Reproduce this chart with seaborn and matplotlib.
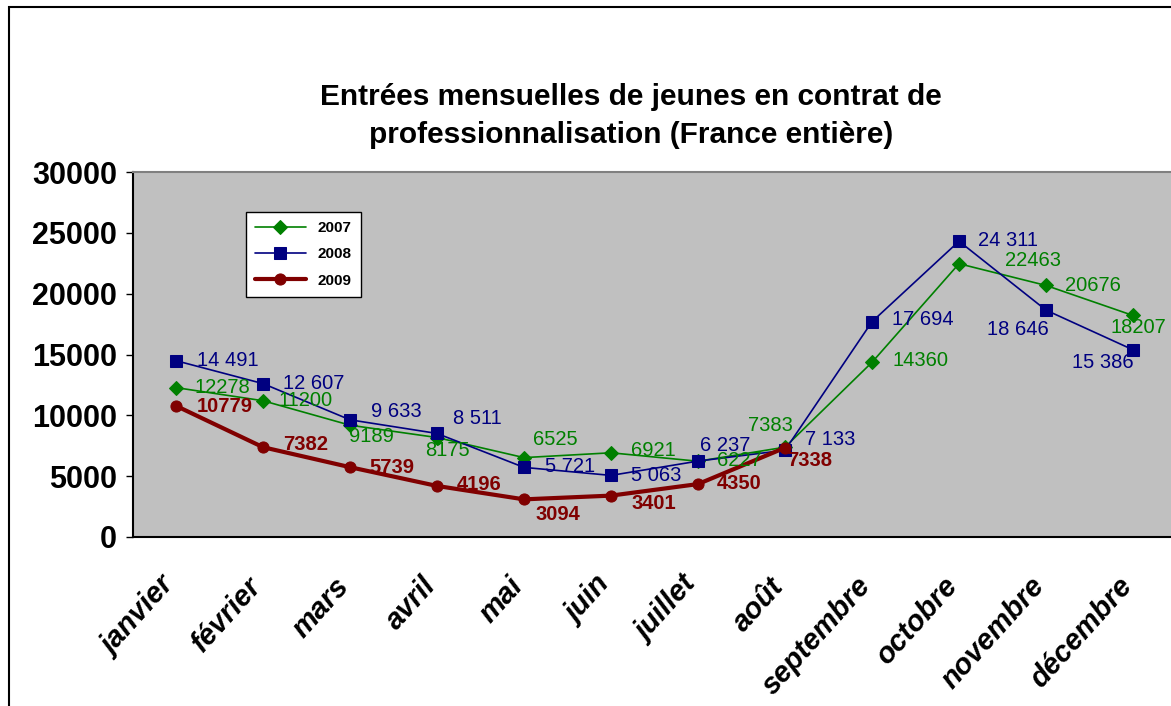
import numpy as np
import matplotlib
matplotlib.use('Agg')
import matplotlib.pyplot as plt
import matplotlib.transforms as mtransforms
from matplotlib.patches import Rectangle
import pandas as pd
import seaborn as sns

# données
mois = ['janvier', 'février', 'mars', 'avril', 'mai', 'juin', 'juillet', 'août',
        'septembre', 'octobre', 'novembre', 'décembre']
entrees_2007 = [12278, 11200, 9189, 8175, 6525, 6921, 6227, 7383, 14360, 22463, 20676, 18207]
entrees_2008 = [14491, 12607, 9633, 8511, 5721, 5063, 6237, 7133, 17694, 24311, 18646, 15386]
entrees_2009 = [10779, 7382, 5739, 4196, 3094, 3401, 4350, 7338]
yticks = [0, 5000, 10000, 15000, 20000, 25000, 30000]

# décalage des étiquettes (pixels, par rapport au point)
off_2007 = [(19, 0), (16, 0), (-1, -11), (-12, -13), (9, 18), (20, 2), (19, 1), (-37, 22),
            (20, 2), (46, 3), (19, 0), (-23, -12)]
off_2008 = [(21, 0), (20, 0), (21, 8), (16, 15), (21, 1), (20, 0), (2, 16), (20, 11),
            (20, 2), (19, 1), (-59, -19), (-61, -13)]
off_2009 = [(21, -1), (20, 3), (19, 0), (20, 1), (12, -15), (20, -8), (19, 1), (2, -13)]

sns.set_style('white')
plt.rcParams['font.family'] = ['Liberation Sans', 'DejaVu Sans']
plt.rcParams['text.color'] = 'black'
plt.rcParams['xtick.color'] = 'black'
plt.rcParams['ytick.color'] = 'black'

W, H = 1171, 706
fig = plt.figure(figsize=(W / 100, H / 100), dpi=100)
fig.patch.set_facecolor('white')
ax = fig.add_axes([132.5 / W, 1 - 537 / H, (1176.5 - 132.5) / W, (537 - 172) / H])
ax.set_facecolor('#C0C0C0')

x = np.arange(len(mois))
series = [
    ('2007', entrees_2007, '#008000', 'D', 7, 1.2, off_2007, 'normal'),
    ('2008', entrees_2008, '#000080', 's', 8.5, 1.2, off_2008, 'normal'),
    ('2009', entrees_2009, '#800000', 'o', 8, 3.0, off_2009, 'bold'),
]
for nom, vals, col, mk, ms, lw, offs, fw in series:
    xs = x[:len(vals)]
    sns.lineplot(x=xs, y=vals, ax=ax, color=col, marker=mk, markersize=ms, linewidth=lw,
                 markeredgecolor=col, label=nom, zorder=3)
    for xi, v, (dx, dy) in zip(xs, vals, offs):
        txt = f'{v:,}'.replace(',', ' ') if nom == '2008' else str(v)
        ax.annotate(txt, (xi, v), xytext=(dx, dy), textcoords='offset pixels',
                    ha='left', va='center', color=col, fontsize=14.5, fontweight=fw, zorder=4)

ax.set_xlim(-0.5, 11.5)
ax.set_ylim(0, 30000)
ax.set_yticks(yticks)
ax.set_yticklabels([str(t) for t in yticks], fontsize=22, fontweight='bold', color='black')
ax.set_xticks(x)
ax.set_xticklabels(mois, rotation=48, ha='right', va='center', rotation_mode='anchor',
                   fontsize=21, fontweight='bold', style='italic', color='black')
ax.set_xticks(np.arange(-0.5, 12, 1), minor=True)
ax.tick_params(axis='x', which='major', length=0, pad=32)
ax.tick_params(axis='x', which='minor', length=8, direction='out', color='black', width=1)
ax.tick_params(axis='y', length=5, direction='out', color='black', width=1, pad=6, left=True)
ax.set_xlabel('')
ax.set_ylabel('')
off = mtransforms.ScaledTranslation(-6 / 100, 0, fig.dpi_scale_trans)
for lab in ax.get_xticklabels():
    lab.set_transform(lab.get_transform() + off)

for s in ['left', 'bottom']:
    ax.spines[s].set_color('black')
    ax.spines[s].set_linewidth(1.5)
ax.spines['top'].set_color('#808080')
ax.spines['top'].set_linewidth(1.5)
ax.spines['right'].set_visible(False)

leg = ax.legend(loc='upper left', bbox_to_anchor=(246 / W, 1 - 212 / H), bbox_transform=fig.transFigure,
                frameon=True, fancybox=False, framealpha=1, edgecolor='black', handlelength=3.3,
                labelspacing=0.8, borderpad=0.6, borderaxespad=0, prop={'weight': 'bold', 'size': 11})
leg.get_frame().set_linewidth(1)
for t in leg.get_texts():
    t.set_color('black')

fig.text(631 / W, 1 - 116 / H, 'Entrées mensuelles de jeunes en contrat de\nprofessionnalisation (France entière)',
         ha='center', va='center', fontsize=21.5, fontweight='bold', linespacing=1.45, color='black')

fig.patches.append(Rectangle((9 / W, -0.1), 1.2, 1.1 - 7 / H, transform=fig.transFigure,
                             fill=False, edgecolor='black', linewidth=1.5))

plt.savefig('out.png', dpi=100)
